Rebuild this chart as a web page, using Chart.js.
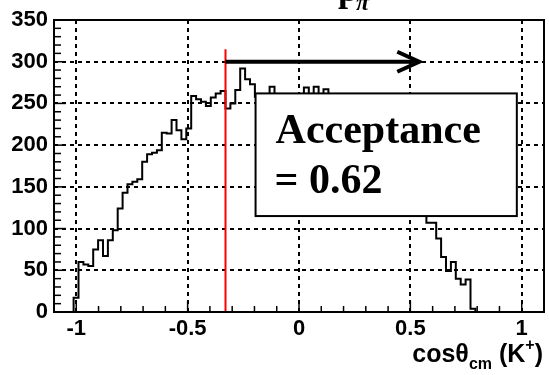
<!DOCTYPE html>
<html>
<head>
<meta charset="utf-8">
<script src="https://cdn.jsdelivr.net/npm/chart.js@4.4.1/dist/chart.umd.min.js"></script>
<style>
  html, body { margin: 0; padding: 0; background: #ffffff; }
  #wrap { width: 549px; height: 375px; position: relative; }
</style>
</head>
<body>
<div id="wrap"><canvas id="c"></canvas></div>
<script>
// cos(theta_cm) of the K+ : 100 equal bins between -1.1 and 1.1
const binLow = -1.1;
const binHigh = 1.1;
const nBins = 100;

// entries per bin, left to right
const counts = [
  0, 0, 0, 0, 17, 60, 57, 55, 75, 86,
  67, 86, 98, 124, 143, 153, 156, 159, 180, 189,
  191, 194, 215, 214, 230, 218, 207, 220, 259, 255,
  252, 247, 257, 262, 265, 244, 250, 266, 292, 279,
  273, 258, 256, 258, 270, 255, 258, 252, 257, 254,
  259, 269, 256, 270, 258, 267, 255, 251, 246, 240,
  236, 229, 221, 212, 205, 196, 186, 178, 168, 160,
  151, 143, 136, 129, 124, 118, 107, 107, 88, 66,
  49, 60, 40, 33, 39, 4, 0, 0, 0, 0,
  0, 0, 0, 0, 0, 0, 0, 0, 0, 0
];

// acceptance cut and its arrow
const cutValue = -0.33;
const cutLineTop = 315;
const arrowLevel = 300;
const arrowEnd = 0.54;

// axes
const xTicks = [-1, -0.5, 0, 0.5, 1];
const xTickLabels = ['-1', '-0.5', '0', '0.5', '1'];
const yTicks = [0, 50, 100, 150, 200, 250, 300, 350];
const yTickLabels = ['0', '50', '100', '150', '200', '250', '300', '350'];

// text box (corners in data units) and its lines
const boxCorners = { x0: -0.195, x1: 0.978, y0: 115, y1: 262 };
const boxLines = ['Acceptance', '= 0.62'];

// histogram outline: one point per bin edge; each bin's height is held
// across the interval that ends at its upper edge
const binWidth = (binHigh - binLow) / nBins;
const histPoints = [{ x: binLow, y: counts[0] }];
counts.forEach((c, i) => histPoints.push({ x: binLow + (i + 1) * binWidth, y: c }));

const SANS = "'Liberation Sans', Arial, Helvetica, sans-serif";
const SERIF = "'Liberation Serif', 'Times New Roman', serif";

const decorations = {
  id: 'decorations',
  afterDatasetsDraw(chart) {
    const { ctx, chartArea: a, scales: { x, y } } = chart;
    ctx.save();

    // frame
    ctx.strokeStyle = '#000';
    ctx.lineWidth = 2;
    ctx.strokeRect(a.left, a.top, a.right - a.left, a.bottom - a.top);

    // inward tick marks on the bottom axis (every 0.1)
    ctx.lineWidth = 1.5;
    for (let i = -10; i <= 10; i++) {
      const px = x.getPixelForValue(i / 10);
      const len = (i % 5 === 0) ? 11 : 6;
      ctx.beginPath();
      ctx.moveTo(px, a.bottom);
      ctx.lineTo(px, a.bottom - len);
      ctx.stroke();
    }
    // inward tick marks on the left axis (every 10)
    for (let v = 0; v <= 350; v += 10) {
      const py = y.getPixelForValue(v);
      const len = (v % 50 === 0) ? 12 : 7;
      ctx.beginPath();
      ctx.moveTo(a.left, py);
      ctx.lineTo(a.left + len, py);
      ctx.stroke();
    }

    // arrow from the cut towards the accepted region
    const ax0 = x.getPixelForValue(cutValue);
    const ax1 = x.getPixelForValue(arrowEnd);
    const ay = y.getPixelForValue(arrowLevel);
    ctx.lineWidth = 4;
    ctx.lineCap = 'butt';
    ctx.beginPath();
    ctx.moveTo(ax0, ay);
    ctx.lineTo(ax1 - 2, ay);
    ctx.stroke();
    ctx.lineJoin = 'miter';
    ctx.beginPath();
    ctx.moveTo(ax1 - 22, ay - 10);
    ctx.lineTo(ax1, ay);
    ctx.lineTo(ax1 - 22, ay + 10);
    ctx.stroke();

    // acceptance box
    const bx0 = x.getPixelForValue(boxCorners.x0);
    const bx1 = x.getPixelForValue(boxCorners.x1);
    const by0 = y.getPixelForValue(boxCorners.y1);
    const by1 = y.getPixelForValue(boxCorners.y0);
    ctx.fillStyle = '#fff';
    ctx.fillRect(bx0, by0, bx1 - bx0, by1 - by0);
    ctx.lineWidth = 2;
    ctx.strokeRect(bx0, by0, bx1 - bx0, by1 - by0);
    ctx.fillStyle = '#000';
    ctx.font = 'bold 42px ' + SERIF;
    ctx.textAlign = 'left';
    ctx.textBaseline = 'alphabetic';
    ctx.fillText(boxLines[0], bx0 + 20, by0 + 50);
    ctx.fillText(boxLines[1], bx0 + 19, by0 + 100);

    ctx.restore();
  },
  afterDraw(chart) {
    const { ctx, chartArea: a } = chart;
    ctx.save();
    ctx.fillStyle = '#000';
    ctx.textBaseline = 'alphabetic';
    ctx.textAlign = 'left';

    // histogram title (runs off the top edge)
    ctx.font = 'bold 36px ' + SERIF;
    ctx.fillText('p', 338, 1);
    ctx.font = 'italic bold 24px ' + SERIF;
    ctx.fillText('\u03C0', 356, 10);

    // x axis title: cos\u03B8_cm (K^+), right aligned to the frame
    const big = 'bold 25px ' + SANS;
    const small = 'bold 16px ' + SANS;
    const parts = [
      { t: 'cos\u03B8', f: big, dy: 0 },
      { t: 'cm', f: small, dy: 7 },
      { t: ' (K', f: big, dy: 0 },
      { t: '+', f: small, dy: -12 },
      { t: ')', f: big, dy: 0 }
    ];
    let total = 0;
    parts.forEach(p => { ctx.font = p.f; p.w = ctx.measureText(p.t).width; total += p.w; });
    let px = a.right - 1 - total;
    const base = 362;
    parts.forEach(p => { ctx.font = p.f; ctx.fillText(p.t, px, base + p.dy); px += p.w; });
    ctx.restore();
  }
};

new Chart(document.getElementById('c'), {
  type: 'line',
  data: {
    datasets: [
      {
        label: 'cut',
        data: [{ x: cutValue, y: 0 }, { x: cutValue, y: cutLineTop }],
        borderColor: '#ff0000',
        borderWidth: 2,
        pointRadius: 0,
        order: 1
      },
      {
        label: 'entries',
        data: histPoints,
        stepped: 'after',
        borderColor: '#000',
        borderWidth: 2,
        pointRadius: 0,
        fill: false,
        order: 2
      }
    ]
  },
  options: {
    responsive: true,
    maintainAspectRatio: false,
    animation: false,
    events: [],
    layout: { padding: { top: 20, right: 5, left: 0, bottom: 0 } },
    plugins: { legend: { display: false }, tooltip: { enabled: false }, title: { display: false } },
    scales: {
      x: {
        type: 'linear',
        min: binLow,
        max: binHigh,
        afterBuildTicks: (s) => { s.ticks = xTicks.map(v => ({ value: v })); },
        afterFit: (s) => { s.height = 63; },
        ticks: {
          autoSkip: false,
          maxRotation: 0,
          padding: 4,
          color: '#000',
          font: { family: SANS, weight: 'bold', size: 22 },
          callback: (v) => xTickLabels[xTicks.indexOf(v)]
        },
        grid: { color: '#000', lineWidth: 2, drawTicks: false },
        border: { display: false, dash: [4, 4] }
      },
      y: {
        type: 'linear',
        min: 0,
        max: 350,
        afterBuildTicks: (s) => { s.ticks = yTicks.map(v => ({ value: v })); },
        afterFit: (s) => { s.width = 54; },
        ticks: {
          autoSkip: false,
          padding: 6,
          color: '#000',
          font: { family: SANS, weight: 'bold', size: 22 },
          callback: (v) => yTickLabels[yTicks.indexOf(v)]
        },
        grid: {
          color: (c) => (c.tick && (c.tick.value === 0 || c.tick.value === 350)) ? 'rgba(0,0,0,0)' : '#000',
          lineWidth: 2,
          drawTicks: false
        },
        border: { display: false, dash: [4, 4] }
      }
    }
  },
  plugins: [decorations]
});
</script>
</body>
</html>
